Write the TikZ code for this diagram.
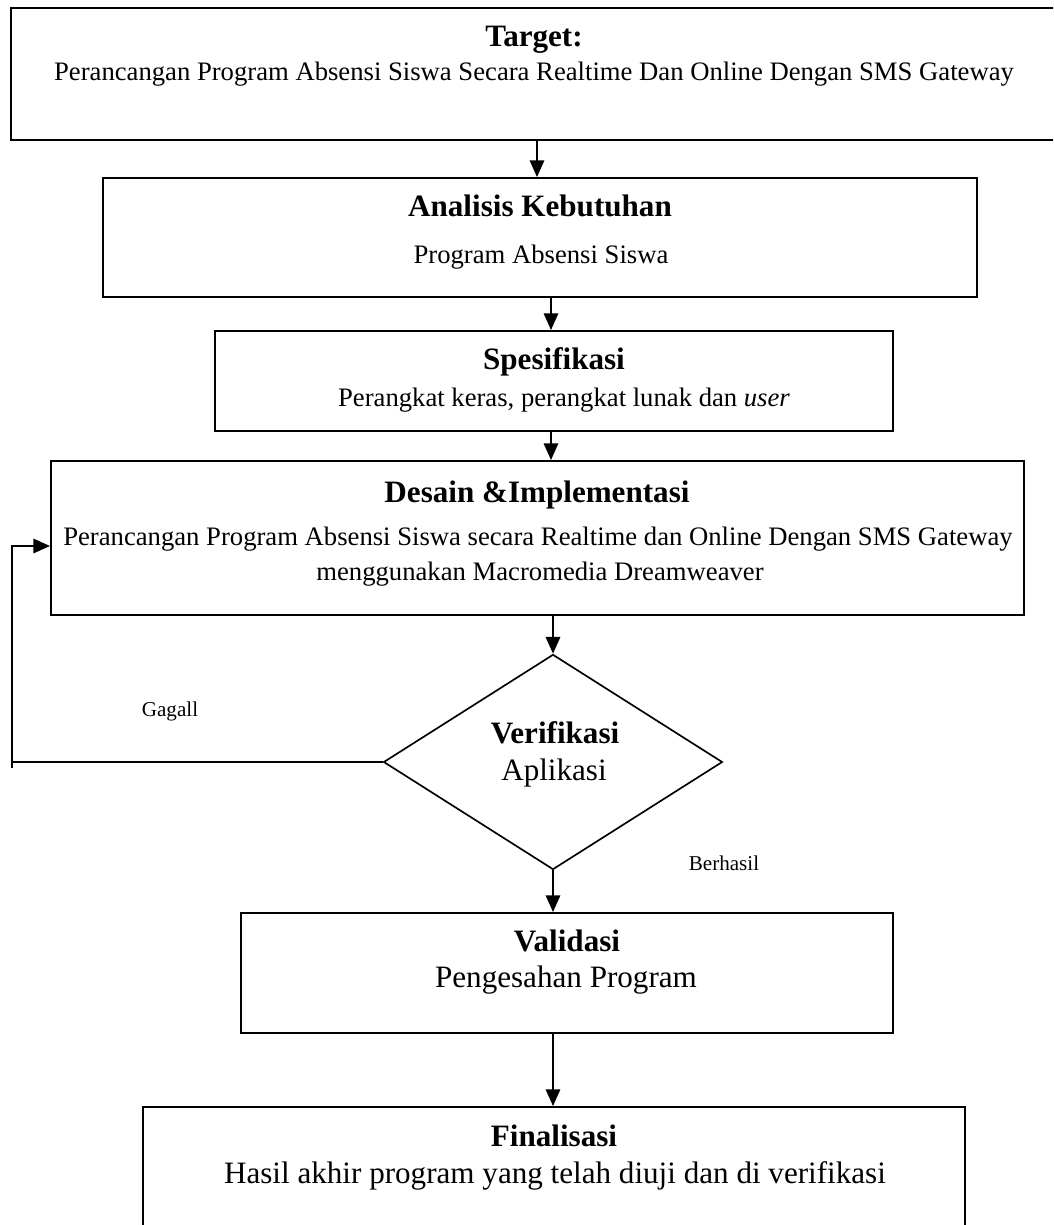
\documentclass[tikz,border=0pt]{standalone}
\usepackage{fontspec}
\setmainfont{Liberation Serif}
\usetikzlibrary{arrows.meta,shapes.geometric,fit}
\begin{document}
\begin{tikzpicture}[x=0.45pt,y=-0.45pt,
  box/.style={draw, rectangle, line width=0.9pt, inner sep=0pt},
  dec/.style={draw, diamond, line width=0.75pt, inner sep=0pt, minimum width=152.5pt, minimum height=96.8pt},
  arr/.style={-{Triangle[length=7.5pt,width=6.5pt]}, line width=0.85pt},
  conn/.style={line width=0.85pt},
  txt/.style={anchor=base, inner sep=0pt},
  ttl/.style={txt, font=\fontsize{14}{16}\selectfont\bfseries},
  big/.style={txt, font=\fontsize{14}{16}\selectfont},
  nrm/.style={txt, font=\fontsize{12}{14}\selectfont},
  sml/.style={txt, font=\fontsize{9.5}{11}\selectfont}]
\useasboundingbox (0,0) rectangle (1053,1225);
\clip (0,0) rectangle (1053,1225);
\fill[white] (0,0) rectangle (1053,1225);

% boxes
\node[box, fit={(11,8) (1070,140)}] (target) {};
\node[box, fit={(103,178) (977,297)}] (anal) {};
\node[box, fit={(215,331) (893,431)}] (spes) {};
\node[box, fit={(51,461) (1024,615)}] (desain) {};
\node[dec] (dia) at (553,762) {};
\node[box, fit={(241,913) (893,1033)}] (valid) {};
\node[box, fit={(143,1107) (965,1245)}] (final) {};

% texts
\node[ttl] (t1) at (534,46) {Target:};
\node[nrm] (t2) at (534,80) {Perancangan Program Absensi Siswa Secara Realtime Dan Online Dengan SMS Gateway};
\node[ttl] (a1) at (540,216) {Analisis Kebutuhan};
\node[nrm] (a2) at (541,263) {Program Absensi Siswa};
\node[ttl] (s1) at (554,369) {Spesifikasi};
\node[nrm] (s2) at (564,406) {Perangkat keras, perangkat lunak dan \textit{user}};
\node[ttl] (d1) at (537,502) {Desain \&Implementasi};
\node[nrm] (d2) at (538,545) {Perancangan Program Absensi Siswa secara Realtime dan Online Dengan SMS Gateway};
\node[nrm] (d3) at (540,580) {menggunakan Macromedia Dreamweaver};
\node[ttl] (v1) at (555,743) {Verifikasi};
\node[big] (v2) at (554,780) {Aplikasi};
\node[sml] (gagal) at (170,716) {Gagall};
\node[sml] (berhasil) at (724,870) {Berhasil};
\node[ttl] (l1) at (567,951) {Validasi};
\node[big] (l2) at (566,987) {Pengesahan Program};
\node[ttl] (f1) at (554,1146) {Finalisasi};
\node[big] (f2) at (555,1183) {Hasil akhir program yang telah diuji dan di verifikasi};

% connector columns
\coordinate (c1) at (537,0);
\coordinate (c2) at (551,0);
\coordinate (fbL) at (12,760);
\coordinate (fbB) at (12,768);
\coordinate (fbT) at (12,546);

% connectors
\draw[arr] (target.south -| c1) -- (anal.north -| c1);
\draw[arr] (anal.south -| c2) -- (spes.north -| c2);
\draw[arr] (spes.south -| c2) -- (desain.north -| c2);
\draw[arr] (desain.south -| dia.north) -- (dia.north);
\draw[arr] (dia.south) -- (valid.north -| dia.south);
\draw[arr] (valid.south -| dia.south) -- (final.north -| dia.south);
\draw[conn] (dia.west) -- (dia.west -| fbL);
\draw[arr] (fbB) -- (fbT) -- (desain.west |- fbT);
\end{tikzpicture}
\end{document}
